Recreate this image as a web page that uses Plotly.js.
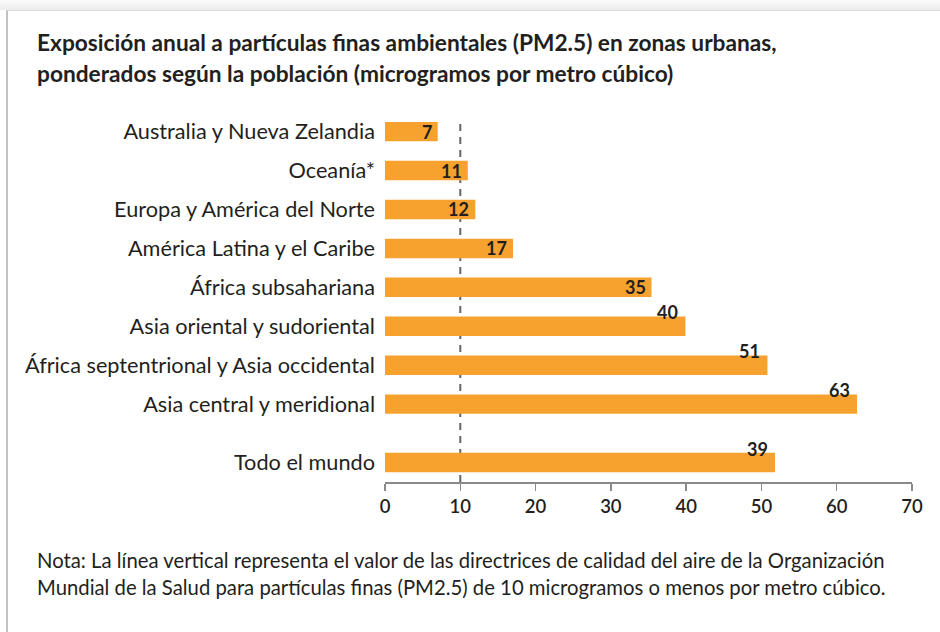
<!DOCTYPE html>
<html>
<head>
<meta charset="utf-8">
<script src="https://cdn.plot.ly/plotly-3.0.1.min.js"></script>
<style>
  html, body { margin: 0; padding: 0; background: #ffffff; }
  #wrap { position: relative; width: 940px; height: 632px; overflow: hidden; }
  #band { position: absolute; left: 0; top: 0; width: 940px; height: 10px; background: linear-gradient(#fbfbfb, #ececec); }
  #frame { position: absolute; left: 6px; top: 10px; width: 934px; height: 622px; border-left: 2px solid #c2c2c2; border-top: 1px solid #dcdcdc; background: #ffffff; box-sizing: border-box; }
  #chart { position: absolute; left: 0; top: 0; width: 940px; height: 632px; }
</style>
</head>
<body>
<div id="wrap">
  <div id="band"></div>
  <div id="frame"></div>
  <div id="chart"></div>
</div>
<script>
// Data
const categories = [
  "Australia y Nueva Zelandia",
  "Oceanía*",
  "Europa y América del Norte",
  "América Latina y el Caribe",
  "África subsahariana",
  "Asia oriental y sudoriental",
  "África septentrional y Asia occidental",
  "Asia central y meridional",
  "Todo el mundo"
];
const positions = [0, 1, 2, 3, 4, 5, 6, 7, 8.5];
const barValues = [7, 11, 12, 17, 35.4, 39.9, 50.8, 62.7, 51.8];
const valueLabels = ["7", "11", "12", "17", "35", "40", "51", "63", "39"];
const guideline = 10;
const xTicks = [0, 10, 20, 30, 40, 50, 60, 70];
const titleLines = [
  "Exposición anual a partículas finas ambientales (PM2.5) en zonas urbanas,",
  "ponderados según la población (microgramos por metro cúbico)"
];
const noteLines = [
  "Nota: La línea vertical representa el valor de las directrices de calidad del aire de la Organización",
  "Mundial de la Salud para partículas finas (PM2.5) de 10 microgramos o menos por metro cúbico."
];

// label placement style (not data)
const labelAbove = [false, false, false, false, false, true, true, true, true];

const orange = "#F7A12E";
const ink = "#231F20";
const font = "Lato, 'Open Sans', sans-serif";

// plot area geometry (pixels)
const L = 385, R = 28, T = 118, B = 150, W = 940, H = 632;
const PW = W - L - R, PH = H - T - B;
const px2x = p => (p - L) / PW;
const py2y = p => (H - B - p) / PH;

const trace = {
  type: "bar",
  orientation: "h",
  x: barValues,
  y: positions,
  width: 0.5,
  marker: { color: orange, line: { width: 0 } },
  hoverinfo: "skip"
};

const annotations = barValues.map((v, i) => ({
  x: v,
  y: positions[i],
  xref: "x",
  yref: "y",
  text: valueLabels[i],
  showarrow: false,
  xanchor: "right",
  yanchor: "middle",
  xshift: labelAbove[i] ? -5 : -4,
  yshift: labelAbove[i] ? 14 : 0,
  font: { family: font, size: 18, color: ink, weight: 700 }
}));

const titleY = [42, 73];
titleLines.forEach((t, i) => annotations.push({
  xref: "paper", yref: "paper",
  x: px2x(35), y: py2y(titleY[i]),
  xanchor: "left", yanchor: "middle", align: "left",
  showarrow: false,
  text: "<b>" + t + "</b>",
  font: { family: font, size: 22.7, color: ink }
}));

const noteY = [560, 587];
noteLines.forEach((t, i) => annotations.push({
  xref: "paper", yref: "paper",
  x: px2x(35), y: py2y(noteY[i]),
  xanchor: "left", yanchor: "middle", align: "left",
  showarrow: false,
  text: t,
  font: { family: font, size: 20.3, color: ink }
}));

const layout = {
  width: W,
  height: H,
  paper_bgcolor: "rgba(0,0,0,0)",
  plot_bgcolor: "rgba(0,0,0,0)",
  margin: { l: L, r: R, t: T, b: B, pad: 0 },
  showlegend: false,
  xaxis: {
    range: [0, 70],
    tickvals: xTicks,
    ticktext: xTicks.map(String),
    ticks: "outside",
    ticklen: 7,
    tickwidth: 1.5,
    tickcolor: "#8a8a8a",
    showline: true,
    linecolor: "#8a8a8a",
    linewidth: 1.5,
    showgrid: false,
    zeroline: false,
    tickfont: { family: font, size: 18.5, color: ink, weight: 600 },
    fixedrange: true
  },
  yaxis: {
    range: [9.0, -0.35],
    tickvals: positions,
    ticktext: categories,
    ticks: "",
    showline: false,
    showgrid: false,
    zeroline: false,
    ticklabelstandoff: 9,
    tickfont: { family: font, size: 21.7, color: ink },
    fixedrange: true
  },
  shapes: [{
    type: "line",
    xref: "x", yref: "paper",
    x0: guideline, x1: guideline, y0: 0, y1: 1,
    line: { color: "#666666", width: 2, dash: "7px,6px" },
    layer: "below"
  }],
  annotations: annotations
};

Plotly.newPlot("chart", [trace], layout, { displayModeBar: false, staticPlot: true });
</script>
</body>
</html>
